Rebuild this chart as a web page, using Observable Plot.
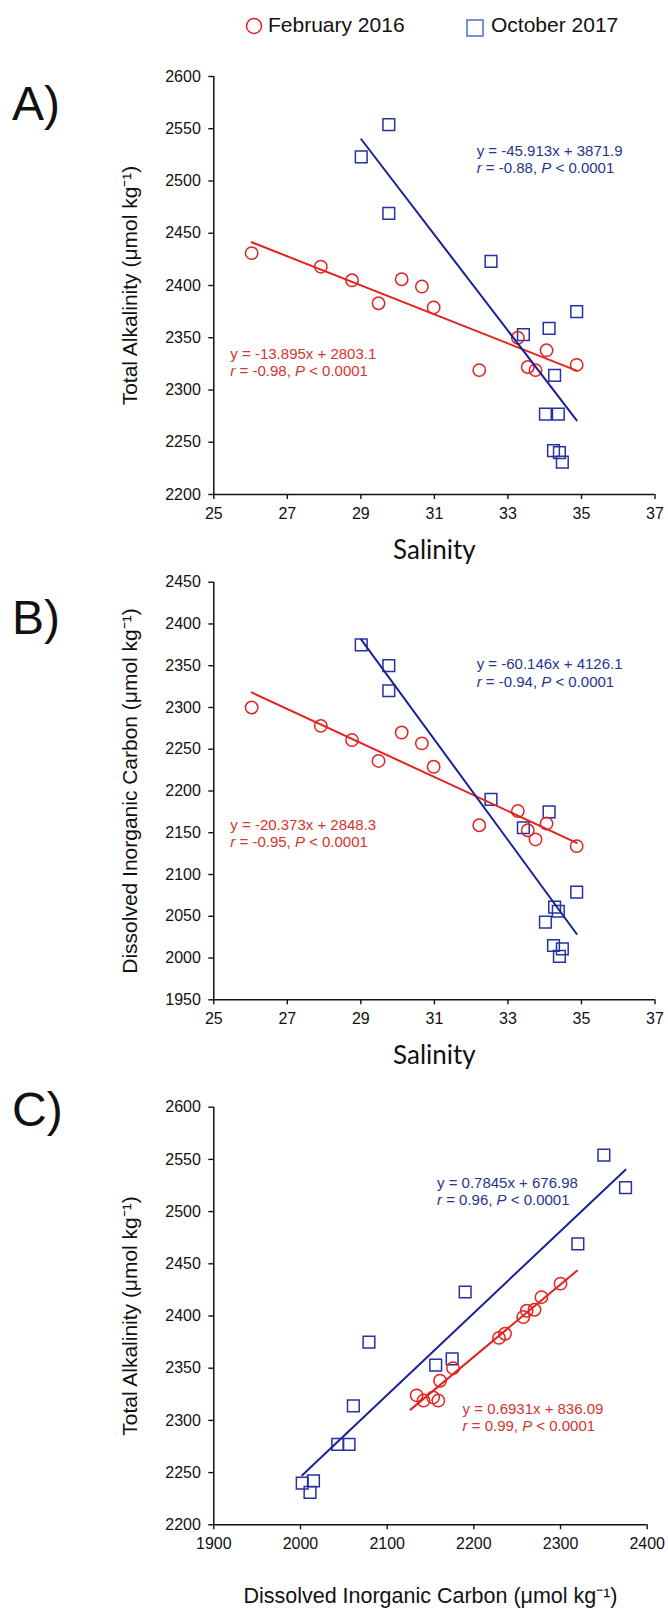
<!DOCTYPE html>
<html><head><meta charset="utf-8">
<script src="https://cdn.jsdelivr.net/npm/d3@7"></script>
<script src="https://cdn.jsdelivr.net/npm/@observablehq/plot@0.6"></script>
<style>
html,body{margin:0;padding:0;background:#fff;}
#wrap{position:relative;width:668px;height:1609px;overflow:hidden;font-family:"Liberation Sans",Arial,sans-serif;color:#111;}
.letter{position:absolute;left:12px;font-size:48px;line-height:48px;}
.legtext{position:absolute;font-size:21px;line-height:24px;top:13px;}
.sw{position:absolute;}
</style></head><body>
<div id="wrap">
  <svg class="sw" style="left:245px;top:17px" width="18" height="18"><circle cx="9" cy="9" r="7.5" fill="none" stroke="#e0202a" stroke-width="1.5"/></svg>
  <div class="legtext" style="left:268px">February 2016</div>
  <svg class="sw" style="left:466px;top:19px" width="18" height="18"><rect x="1" y="1" width="16" height="16" fill="none" stroke="#4a6fc9" stroke-width="1.5"/></svg>
  <div class="legtext" style="left:491px">October 2017</div>
  <div class="letter" style="top:80px">A)</div>
  <div class="letter" style="top:594px">B)</div>
  <div class="letter" style="top:1086px">C)</div>
</div>
<script>
// ---- data ----
const febSalinity = [26.03, 27.91, 28.76, 29.48, 30.11, 30.66, 30.98, 32.22, 33.27, 33.54, 33.75, 34.05, 34.87];
const febTA       = [2431, 2418, 2405, 2383, 2406, 2399, 2379, 2319, 2350, 2322, 2319, 2338, 2324];
const febDIC      = [2300, 2278, 2261, 2236, 2270, 2257, 2229, 2159, 2176, 2153, 2142, 2161, 2134];

const octSalinity = [29.01, 29.76, 29.76, 32.54, 33.42, 34.12, 34.87, 34.27, 34.02, 34.37, 34.24, 34.40, 34.48];
const octTA       = [2523, 2554, 2469, 2423, 2353, 2359, 2375, 2314, 2277, 2277, 2242, 2240, 2231];
const octDIC      = [2375, 2350, 2320, 2190, 2156, 2175, 2079, 2061, 2043, 2056, 2015, 2002, 2011];

// regression equations [February 2016, October 2017]
const slopeA = [-13.895, -45.913], interceptA = [2803.1, 3871.9], rA = [-0.98, -0.88];
const slopeB = [-20.373, -60.146], interceptB = [2848.3, 4126.1], rB = [-0.95, -0.94];
const slopeC = [0.6931, 0.7845],   interceptC = [836.09, 676.98], rC = [0.99, 0.96];
const pText = "0.0001";
const trendRangeCFeb = [2127, 2319];

// equation label anchors (data units) [Feb, Oct]
const eqXA = [25.45, 32.15], eqYA = [2327, 2521];
const eqXB = [25.45, 32.15], eqYB = [2149.5, 2342];
const eqXC = [2187, 2157.5], eqYC = [2303.5, 2520];

const salTicks = [25, 27, 29, 31, 33, 35, 37];
const taTicks = d3.range(2200, 2601, 50);
const dicTicksB = d3.range(1950, 2451, 50);
const dicTicksC = d3.range(1900, 2401, 100);

const RED = "#e3221f", RED_TXT = "#d63430", BLUE = "#2433a0", BLUE_LINE = "#1b2196", BLUE_TXT = "#27358f";
const SANS = '"Liberation Sans", Arial, sans-serif';

function zip(xs, ys) { return xs.map((x, i) => ({x, y: ys[i]})); }
function trend(range, m, b) { return range.map(x => ({x, y: m * x + b})); }
function eqLabel(m, b, r) { return `y = ${m}x + ${b}\nr = ${r}, P < ${pText}`; }

function panel(o) {
  const height = o.marginTop + o.plotHeight + o.marginBottom;
  const feb = zip(o.febX, o.febY), oct = zip(o.octX, o.octY);
  const eqs = [
    {x: o.eqX[0], y: o.eqY[0], text: eqLabel(o.slope[0], o.intercept[0], o.r[0]), c: RED_TXT},
    {x: o.eqX[1], y: o.eqY[1], text: eqLabel(o.slope[1], o.intercept[1], o.r[1]), c: BLUE_TXT}
  ];
  const svg = Plot.plot({
    width: 668, height,
    marginLeft: 213.3, marginRight: o.marginRight, marginTop: o.marginTop, marginBottom: o.marginBottom,
    style: {background: "transparent", overflow: "visible", fontFamily: SANS, fontSize: "16px", color: "#111"},
    x: {domain: o.xDomain, ticks: o.xTicks},
    y: {domain: o.yDomain, ticks: o.yTicks},
    marks: [
      Plot.axisY({ticks: o.yTicks, tickFormat: "d", tickSize: 5, tickPadding: 8, strokeWidth: 1.4, label: null}),
      Plot.axisX({ticks: o.xTicks, tickFormat: "d", tickSize: 5, tickPadding: 8, strokeWidth: 1.4, label: null}),
      Plot.text([o.yLabel], {frameAnchor: "left", rotate: -90, dx: -83.3, textAnchor: "middle", lineAnchor: "middle",
        fontSize: o.yLabelSize, fontFamily: SANS, fill: "#111"}),
      Plot.text([o.xLabel], {frameAnchor: "bottom", dy: o.xLabelDy, textAnchor: "middle", lineAnchor: "middle",
        fontSize: o.xLabelSize, fontFamily: o.xLabelFont, fill: "#111"}),
      Plot.ruleX([o.xDomain[0]], {stroke: "#111", strokeWidth: 1.5}),
      Plot.ruleY([o.yDomain[0]], {stroke: "#111", strokeWidth: 1.5}),
      Plot.dot(oct, {x: "x", y: "y", symbol: "square", r: 6.6, stroke: BLUE, strokeWidth: 1.5, fill: "none"}),
      Plot.dot(feb, {x: "x", y: "y", symbol: "circle", r: 6.2, stroke: RED, strokeWidth: 1.5, fill: "none"}),
      Plot.line(trend(o.febRange, o.slope[0], o.intercept[0]), {x: "x", y: "y", stroke: RED, strokeWidth: 2}),
      Plot.line(trend(o.octRange, o.slope[1], o.intercept[1]), {x: "x", y: "y", stroke: BLUE_LINE, strokeWidth: 2}),
      Plot.text(eqs, {x: "x", y: "y", text: "text", fill: "c", textAnchor: "start", lineAnchor: "middle", lineHeight: 1.15, fontSize: 15})
    ]
  });
  const ns = "http://www.w3.org/2000/svg";
  svg.querySelectorAll("text, tspan").forEach(el => {
    if (el.children.length) return;
    const m = el.textContent.match(/^r = (.*), P < (.*)$/);
    if (!m) return;
    el.textContent = "";
    const add = (s, it) => { const t = document.createElementNS(ns, "tspan"); t.textContent = s; if (it) t.setAttribute("font-style", "italic"); el.appendChild(t); };
    add("r", true); add(" = " + m[1] + ", ", false); add("P", true); add(" < " + m[2], false);
  });
  svg.style.position = "absolute";
  svg.style.top = o.top + "px";
  svg.style.left = "0px";
  document.getElementById("wrap").appendChild(svg);
}

const yTA = "Total Alkalinity (μmol kg⁻¹)";
const yDIC = "Dissolved Inorganic Carbon (μmol kg⁻¹)";

panel({top: 30, marginTop: 46, plotHeight: 418, marginBottom: 84, marginRight: 13.5,
  xDomain: [25, 37], xTicks: salTicks, yDomain: [2200, 2600], yTicks: taTicks,
  xLabel: "Salinity", yLabel: yTA, xLabelDy: 56, xLabelSize: 26, xLabelFont: "Lato, 'Open Sans', sans-serif", yLabelSize: 21,
  febX: febSalinity, febY: febTA, octX: octSalinity, octY: octTA,
  febRange: d3.extent(febSalinity), octRange: d3.extent(octSalinity),
  slope: slopeA, intercept: interceptA, r: rA, eqX: eqXA, eqY: eqYA});

panel({top: 540, marginTop: 41.7, plotHeight: 417.6, marginBottom: 80, marginRight: 13.5,
  xDomain: [25, 37], xTicks: salTicks, yDomain: [1950, 2450], yTicks: dicTicksB,
  xLabel: "Salinity", yLabel: yDIC, xLabelDy: 56, xLabelSize: 26, xLabelFont: "Lato, 'Open Sans', sans-serif", yLabelSize: 21,
  febX: febSalinity, febY: febDIC, octX: octSalinity, octY: octDIC,
  febRange: d3.extent(febSalinity), octRange: d3.extent(octSalinity),
  slope: slopeB, intercept: interceptB, r: rB, eqX: eqXB, eqY: eqYB});

panel({top: 1060, marginTop: 46.7, plotHeight: 417.6, marginBottom: 85, marginRight: 21.3,
  xDomain: [1900, 2400], xTicks: dicTicksC, yDomain: [2200, 2600], yTicks: taTicks,
  xLabel: "Dissolved Inorganic Carbon (μmol kg⁻¹)", yLabel: yTA, xLabelDy: 71, xLabelSize: 21.5, xLabelFont: SANS, yLabelSize: 21,
  febX: febDIC, febY: febTA, octX: octDIC, octY: octTA,
  febRange: trendRangeCFeb, octRange: d3.extent(octDIC),
  slope: slopeC, intercept: interceptC, r: rC, eqX: eqXC, eqY: eqYC});
</script>
</body></html>
